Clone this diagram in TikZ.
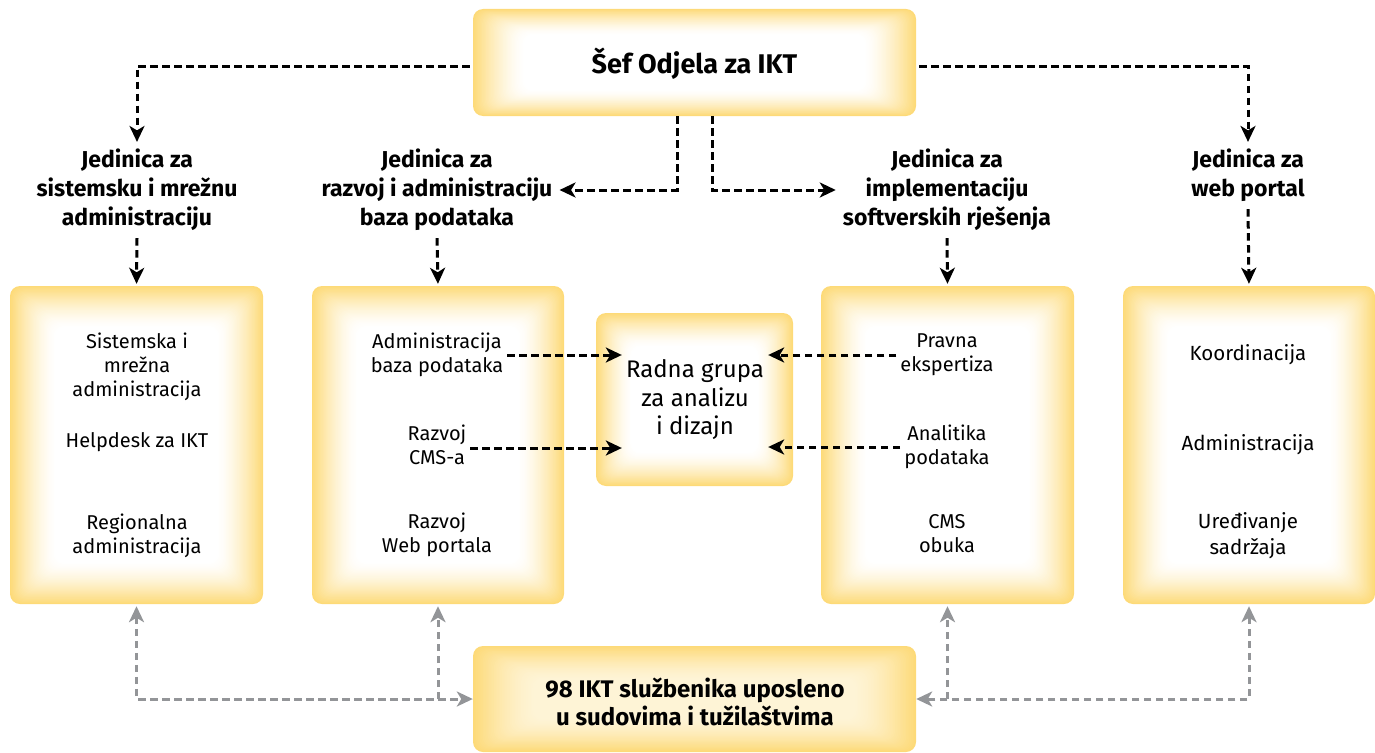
\documentclass[tikz,border=0pt]{standalone}
\usepackage{fontspec}
\setmainfont{Fira Sans}
\usetikzlibrary{arrows.meta,calc,fit}
\definecolor{glow}{RGB}{253,218,120}
\definecolor{arrgray}{RGB}{147,149,152}
\newcommand\glowbox[8]{% name x1 y1 x2 y2 hx hy min
  \foreach \i in {0,...,40}{%
    \pgfmathtruncatemacro\p{#8+(100-#8)*(1-\i/40)^1.5}%
    \fill[glow!\p!white, rounded corners=10pt] ({#2+#6*\i/40},{#3+#7*\i/40}) rectangle ({#4-#6*\i/40},{#5-#7*\i/40});
  }
  \path (#2,#3) coordinate (#1-a) (#4,#5) coordinate (#1-b);
  \node[fit=(#1-a)(#1-b), inner sep=0pt] (#1) {};
}
\tikzset{
  tip/.tip={Stealth[length=16pt,width=15pt,inset=4.5pt]},
  blk/.style={draw=black, line width=3pt, dash pattern=on 7.5pt off 4.5pt, -tip},
  gry/.style={draw=arrgray, line width=3pt, dash pattern=on 7.5pt off 4.5pt, -tip},
  hd/.style={font=\fontsize{23}{29}\selectfont\bfseries, align=center, inner sep=7pt},
  bt/.style={font=\fontsize{20}{24}\selectfont, align=center, inner sep=4pt},
}
\begin{document}
\begin{tikzpicture}[x=1pt,y=-1pt]
\useasboundingbox (0,0) rectangle (1375,752);
% boxes
\glowbox{sef}{473}{9}{916}{116}{52}{26}{0}
\glowbox{b1}{10}{286}{263}{604}{46}{42}{0}
\glowbox{b2}{312}{286}{564}{604}{46}{42}{0}
\glowbox{b3}{821}{286}{1074}{604}{46}{42}{0}
\glowbox{b4}{1123}{286}{1375}{604}{46}{42}{0}
\glowbox{rgb}{596}{313}{793}{486}{36}{34}{0}
\glowbox{bot}{473}{646}{916}{752}{64}{34}{30}
% texts
\node[font=\fontsize{27}{32}\selectfont\bfseries] (sefT) at (694.5,64) {Šef Odjela za IKT};
\node[hd] (u1) at (137,190) {Jedinica za\\sistemsku i mrežnu\\administraciju};
\node[hd] (u2) at (437,190) {Jedinica za\\razvoj i administraciju\\baza podataka};
\node[hd] (u3) at (947,190) {Jedinica za\\implementaciju\\softverskih rješenja};
\node[hd] (u4) at (1248,175.5) {Jedinica za\\web portal};
\node[bt] (t11) at (137,367) {Sistemska i\\mrežna\\administracija};
\node[bt] (t12) at (137,442) {Helpdesk za IKT};
\node[bt] (t13) at (137,536) {Regionalna\\administracija};
\node[bt] (t21) at (437,355) {Administracija\\baza podataka};
\node[bt] (t22) at (437,445) {Razvoj\\CMS-a};
\node[bt] (t23) at (437,535) {Razvoj\\Web portala};
\node[bt] (t31) at (947,355) {Pravna\\ekspertiza};
\node[bt] (t32) at (947,447) {Analitika\\podataka};
\node[bt] (t33) at (947,534) {CMS\\obuka};
\node[bt, font=\fontsize{20.5}{26}\selectfont] (t41) at (1248,355) {Koordinacija};
\node[bt, font=\fontsize{20.5}{26}\selectfont] (t42) at (1248,445) {Administracija};
\node[bt, font=\fontsize{20.5}{26}\selectfont] (t43) at (1248,536) {Uređivanje\\sadržaja};
\node[bt, font=\fontsize{24}{28.5}\selectfont] (rg) at (695,400) {Radna grupa\\za analizu\\i dizajn};
\node[font=\fontsize{24}{28}\selectfont\bfseries, align=center] (botT) at (695,702) {98 IKT službenika uposleno\\u sudovima i tužilaštvima};
% connectors from head
\coordinate (sL) at ($(sef.west)+(-3,4)$);
\coordinate (sR) at ($(sef.east)+(3,4)$);
\coordinate (s1) at ($(sef.south)+(-17.5,0)$);
\coordinate (s2) at ($(sef.south)+(17.5,0)$);
\draw[blk] (sL) -| (u1.north);
\draw[blk] (sR) -| (u4.north);
\draw[blk] (s1) |- (u2.east);
\draw[blk] (s2) |- (u3.west);
\draw[blk, shorten >=2pt] (u1.south) -- (b1.north);
\draw[blk, shorten >=2pt] (u2.south) -- (b2.north);
\draw[blk, shorten >=2pt] (u3.south) -- (b3.north);
\draw[blk, shorten >=2pt] (u4.south) -- (b4.north);
% to working group
\draw[blk] (t21.east) -- (t21.east -| rg.west);
\draw[blk] ($(t22.east)+(0,3)$) -- ($(t22.east -| rg.west)+(0,3)$);
\draw[blk] (t31.west) -- (t31.west -| rg.east);
\draw[blk] (t32.west) -- (t32.west -| rg.east);
% gray bottom
\draw[gry, tip-tip, shorten <=2pt] (b1.south) |- (bot.west);
\draw[gry, shorten >=2pt] (bot.west -| b2.south) -- (b2.south);
\draw[gry, tip-tip, shorten <=2pt] (b4.south) |- (bot.east);
\draw[gry, shorten >=2pt] (bot.east -| b3.south) -- (b3.south);
\end{tikzpicture}
\end{document}
